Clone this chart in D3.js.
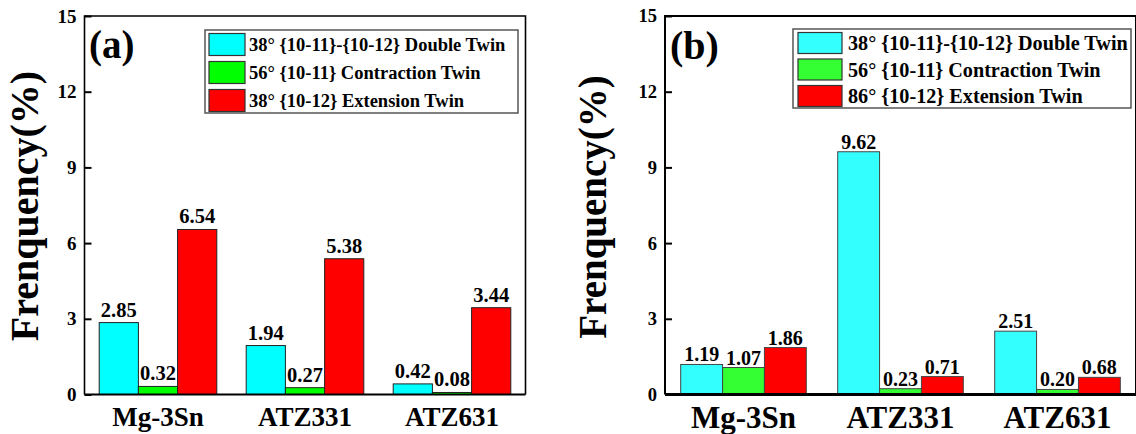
<!DOCTYPE html>
<html>
<head>
<meta charset="utf-8">
<script src="https://cdn.jsdelivr.net/npm/d3@7"></script>
<style>
  html, body { margin: 0; padding: 0; background: #fff; }
  svg { display: block; }
  text { font-family: "Liberation Serif", "Times New Roman", Times, serif; font-weight: bold; fill: #000; }
</style>
</head>
<body>
<svg id="chart" width="1136" height="434"></svg>
<script>
// ---- data ----
const categories = ["Mg-3Sn", "ATZ331", "ATZ631"];
const yTicks = [0, 3, 6, 9, 12, 15];

const legendA = ["38° {10-11}-{10-12} Double Twin", "56° {10-11} Contraction Twin", "38° {10-12} Extension Twin"];
const doubleA = [2.85, 1.94, 0.42];
const contractionA = [0.32, 0.27, 0.08];
const extensionA = [6.54, 5.38, 3.44];

const legendB = ["38° {10-11}-{10-12} Double Twin", "56° {10-11} Contraction Twin", "86° {10-12} Extension Twin"];
const doubleB = [1.19, 9.62, 2.51];
const contractionB = [1.07, 0.23, 0.20];
const extensionB = [1.86, 0.71, 0.68];

const svg = d3.select("#chart");

function drawPanel(cfg) {
  const g = svg.append("g");
  const series = cfg.series;
  const x0 = d3.scaleBand().domain(categories).range([cfg.left, cfg.right]).paddingInner(0.2).paddingOuter(0.1);
  const x1 = d3.scaleBand().domain(d3.range(series.length)).range([0, x0.bandwidth()]);
  const y = d3.scaleLinear().domain([0, 15]).range([cfg.bottom, cfg.top]);

  // bars
  series.forEach((s, si) => {
    g.selectAll(null).data(s.values).enter().append("rect")
      .attr("x", (d, i) => x0(categories[i]) + x1(si))
      .attr("y", d => y(d))
      .attr("width", x1.bandwidth())
      .attr("height", d => y(0) - y(d))
      .attr("fill", cfg.colors[si])
      .attr("stroke", cfg.barStroke)
      .attr("stroke-width", 1);
  });

  // value labels
  series.forEach((s, si) => {
    g.selectAll(null).data(s.values).enter().append("text")
      .attr("x", (d, i) => x0(categories[i]) + x1(si) + x1.bandwidth() / 2)
      .attr("y", d => y(d) - cfg.labelGap)
      .attr("text-anchor", "middle")
      .attr("font-size", cfg.valueFont)
      .text(d => d.toFixed(2));
  });

  // frame (left, top, right)
  g.append("path")
    .attr("d", `M${cfg.left},${cfg.bottom} V${cfg.top} H${cfg.right} V${cfg.bottom}`)
    .attr("fill", "none").attr("stroke", "#000").attr("stroke-width", cfg.frameW);

  // y axis ticks (inward) + labels
  const yAxis = d3.axisLeft(y).tickValues(yTicks).tickSize(-7).tickPadding(8).tickFormat(d3.format("d"));
  const ya = g.append("g").attr("transform", `translate(${cfg.left},0)`).call(yAxis);
  ya.attr("font-size", null).attr("font-family", null);
  ya.select(".domain").remove();
  ya.selectAll(".tick line").attr("stroke", "#000").attr("stroke-width", 2);
  ya.selectAll(".tick text")
    .style("font-size", cfg.tickFont + "px")
    .style("font-family", '"Liberation Serif", "Times New Roman", serif').style("font-weight", "bold");

  // x axis line
  g.append("line").attr("x1", cfg.left).attr("x2", cfg.right).attr("y1", cfg.bottom).attr("y2", cfg.bottom)
    .attr("stroke", "#000").attr("stroke-width", cfg.xAxisW);

  // category labels
  g.selectAll(null).data(categories).enter().append("text")
    .attr("x", d => x0(d) + x0.bandwidth() / 2)
    .attr("y", cfg.catY)
    .attr("text-anchor", "middle")
    .attr("font-size", cfg.catFont)
    .text(d => d);

  // y title
  g.append("text")
    .attr("transform", `translate(${cfg.titleX},${cfg.titleY}) rotate(-90)`)
    .attr("text-anchor", "middle")
    .attr("font-size", cfg.titleFont)
    .text("Frenquency(%)");

  // panel letter
  g.append("text").attr("x", cfg.letterX).attr("y", cfg.letterY)
    .attr("font-size", cfg.letterFont).text(cfg.letter);

  // legend
  const L = cfg.legend;
  g.append("rect").attr("x", L.x).attr("y", L.y).attr("width", L.w).attr("height", L.h)
    .attr("fill", "#fff").attr("stroke", "#555").attr("stroke-width", 1.5);
  cfg.legendNames.forEach((name, i) => {
    const ry = L.y + L.firstY + i * L.rowH;
    g.append("rect").attr("x", L.x + L.swX).attr("y", ry)
      .attr("width", L.swW).attr("height", L.swH)
      .attr("fill", cfg.colors[i]).attr("stroke", "#333").attr("stroke-width", 1.2);
    g.append("text").attr("x", L.x + L.textX).attr("y", ry + L.swH / 2)
      .attr("dy", "0.35em").attr("font-size", L.font).text(name);
  });
}

drawPanel({
  left: 84.5, right: 525.5, top: 16, bottom: 394.5,
  series: [{ values: doubleA }, { values: contractionA }, { values: extensionA }],
  colors: ["#00FFFF", "#00FF00", "#FF0000"],
  barStroke: "#222",
  labelGap: 6, valueFont: 20.5,
  frameW: 1.6, xAxisW: 2,
  tickFont: 19,
  catY: 426, catFont: 27,
  titleX: 38, titleY: 206, titleFont: 40,
  letter: "(a)", letterX: 89, letterY: 58, letterFont: 39,
  legendNames: legendA,
  legend: { x: 205, y: 30, w: 313, h: 83, swX: 4, swW: 36, swH: 22, firstY: 3.5, rowH: 28, textX: 44, font: 18.5 }
});

drawPanel({
  left: 665, right: 1136, top: 16, bottom: 394.5,
  series: [{ values: doubleB }, { values: contractionB }, { values: extensionB }],
  colors: ["#33FFFF", "#33FF33", "#FF0000"],
  barStroke: "#444",
  labelGap: 3, valueFont: 20,
  frameW: 2, xAxisW: 3,
  tickFont: 18.5,
  catY: 428, catFont: 31,
  titleX: 606, titleY: 207, titleFont: 39,
  letter: "(b)", letterX: 670, letterY: 59, letterFont: 40,
  legendNames: legendB,
  legend: { x: 793, y: 29, w: 338, h: 79, swX: 5, swW: 44, swH: 21, firstY: 3.5, rowH: 26.5, textX: 55, font: 20.2 }
});
</script>
</body>
</html>
